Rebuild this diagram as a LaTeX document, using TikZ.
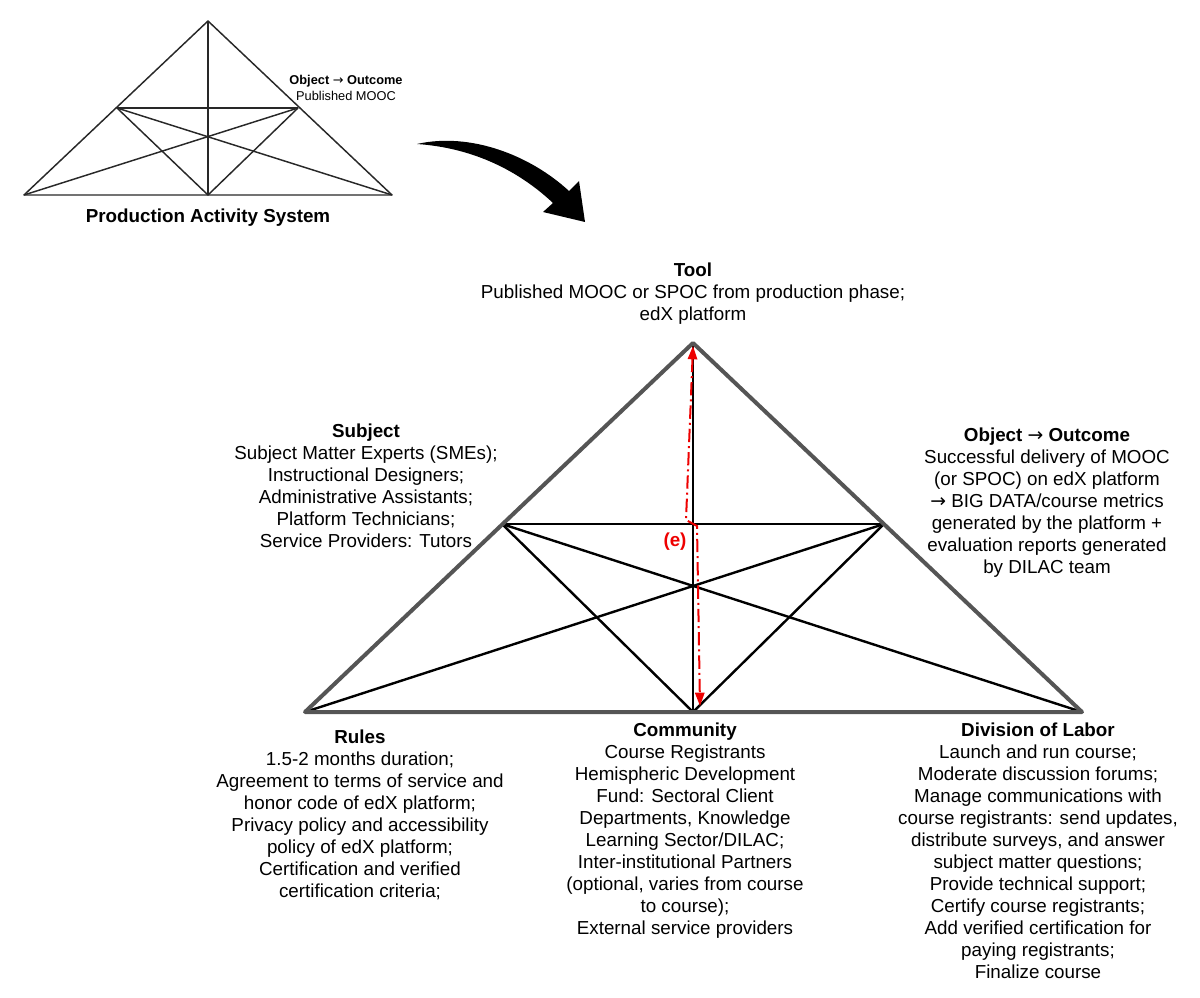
\documentclass[tikz,border=0pt]{standalone}
\usepackage{fontspec}
\setmainfont{Liberation Sans}
\newfontfamily\arrowfont{DejaVu Sans}
\newcommand{\toarrow}{{\arrowfont\mdseries →}}
\usetikzlibrary{arrows.meta}

\tikzset{every picture/.style={line width=0.75pt}}
\tikzset{
	thin frame/.style={draw={rgb, 255:red, 40; green, 40; blue, 40 }, line width=1.1pt, line join=round},
	inner line/.style={draw={rgb, 255:red, 0; green, 0; blue, 0 }, line width=1.8pt},
	outer line/.style={draw={rgb, 255:red, 85; green, 85; blue, 85 }, line width=3pt, line join=round},
	red dashdot/.style={draw={rgb, 255:red, 238; green, 0; blue, 0 }, line width=1.5pt, dash pattern={on 10pt off 3pt on 1.5pt off 3pt}, {Triangle[length=10pt,width=7pt]}-{Triangle[length=10pt,width=7pt]}},
	body text/.style={anchor=north, inner sep=0pt, align=center, font=\fontsize{14.1}{16.5}\selectfont},
	small text/.style={anchor=north, inner sep=0pt, align=center, font=\fontsize{9.6}{12}\selectfont}}

\begin{document}
\begin{tikzpicture}[x=0.75pt,y=0.75pt,yscale=-1,xscale=1]
	\path[use as bounding box] (0,0) rectangle (1200,998);
	
	%Small triangle corners
	\coordinate (sTop) at (208,21);
	\coordinate (sLeft) at (24,195);
	\coordinate (sRight) at (392,195);
	\coordinate (sMidL) at (117,108);
	\coordinate (sMidR) at (298,108);
	\coordinate (sBot) at (208,195);
	%Shape: small triangle
	\draw [thin frame] (sLeft) -- (sTop) -- (sRight) -- cycle ;
	\draw [thin frame] (sMidL) -- (sMidR) ;
	\draw [thin frame] (sTop) -- (sBot) ;
	\draw [thin frame] (sMidL) -- (sBot) -- (sMidR) ;
	\draw [thin frame] (sLeft) -- (sMidR) ;
	\draw [thin frame] (sRight) -- (sMidL) ;
	
	%Curved block arrow
	\fill [fill={rgb, 255:red, 0; green, 0; blue, 0 }] (417,144) .. controls (470,132) and (530,155) .. (569,191) -- (579,181) -- (585,222) -- (543,212) -- (553,203) .. controls (520,172) and (475,148) .. (417,144) -- cycle ;
	
	%Big triangle corners
	\coordinate (tTop) at (693,343);
	\coordinate (tLeft) at (305,712);
	\coordinate (tRight) at (1082,712);
	\coordinate (tMidL) at (502,524);
	\coordinate (tMidR) at (884,524);
	\coordinate (tBot) at (693,712);
	%Straight Lines: inner lines
	\draw [inner line] (tMidL) -- (tMidR) ;
	\draw [inner line] (tTop) -- (tBot) ;
	\draw [inner line] (tMidL) -- (tBot) -- (tMidR) ;
	\draw [inner line] (tLeft) -- (tMidR) ;
	\draw [inner line] (tRight) -- (tMidL) ;
	%Shape: big triangle
	\draw [outer line] (tLeft) -- (tTop) -- (tRight) -- cycle ;
	
	%Red dash-dot path (e)
	\coordinate (eTop) at (693,346);
	\coordinate (eBendA) at (686,520);
	\coordinate (eBendB) at (697,526);
	\coordinate (eBot) at (700,706);
	\draw [red dashdot] (eTop) -- (eBendA) -- (eBendB) -- (eBot) ;
	
	% Text Node
	\draw (346,75) node (smallObject) [small text] {\textbf{Object \toarrow{} Outcome}\\Published MOOC};
	% Text Node
	\draw (208,208) node (prodTitle) [body text] {\textbf{Production Activity System}};
	% Text Node
	\draw (693,262) node (tool) [body text] {\textbf{Tool}\\Published MOOC or SPOC from production phase;\\edX platform};
	% Text Node
	\draw (366,423) node (subject) [body text] {\textbf{Subject}\\Subject Matter Experts (SMEs);\\Instructional Designers;\\Administrative Assistants;\\Platform Technicians;\\Service Providers: Tutors};
	% Text Node
	\draw (1047,427) node (outcome) [body text] {\textbf{Object \toarrow{} Outcome}\\Successful delivery of MOOC\\(or SPOC) on edX platform\\\toarrow{} BIG DATA/course metrics\\generated by the platform +\\evaluation reports generated\\by DILAC team};
	% Text Node
	\draw (360,729) node (rules) [body text] {\textbf{Rules}\\1.5-2 months duration;\\Agreement to terms of service and\\honor code of edX platform;\\Privacy policy and accessibility\\policy of edX platform;\\Certification and verified\\certification criteria;};
	% Text Node
	\draw (685,722) node (community) [body text] {\textbf{Community}\\Course Registrants\\Hemispheric Development\\Fund: Sectoral Client\\Departments, Knowledge\\Learning Sector/DILAC;\\Inter-institutional Partners\\(optional, varies from course\\to course);\\External service providers};
	% Text Node
	\draw (1038,722) node (labor) [body text] {\textbf{Division of Labor}\\Launch and run course;\\Moderate discussion forums;\\Manage communications with\\course registrants: send updates,\\distribute surveys, and answer\\subject matter questions;\\Provide technical support;\\Certify course registrants;\\Add verified certification for\\paying registrants;\\Finalize course};
	% Text Node
	\draw (675,542) node (eLabel) [inner sep=0pt][font=\fontsize{14.1}{16.5}\selectfont\bfseries][color={rgb, 255:red, 238; green, 0; blue, 0 }] {(e)};
	
\end{tikzpicture}
\end{document}
